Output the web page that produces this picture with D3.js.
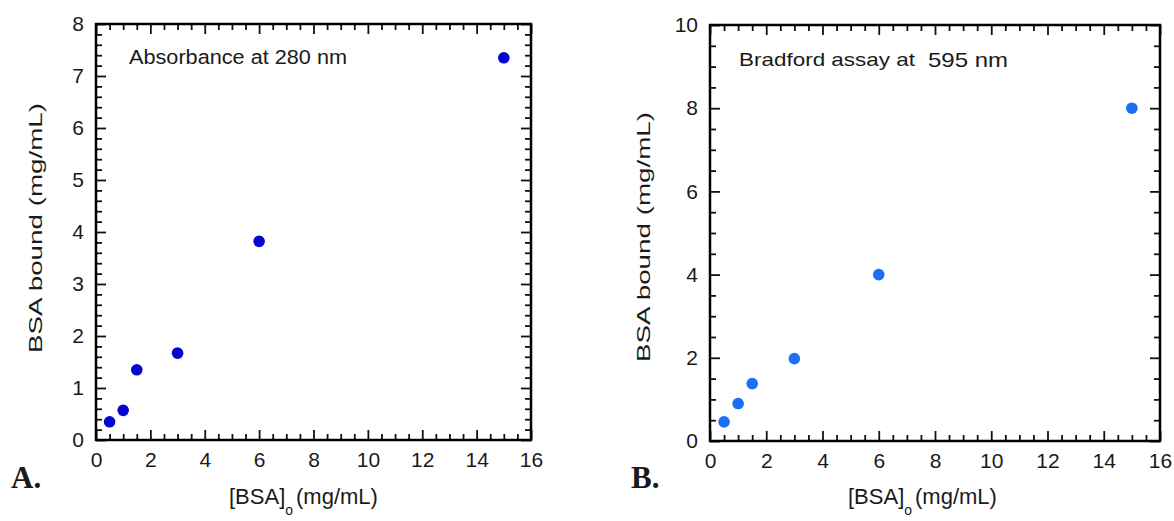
<!DOCTYPE html>
<html>
<head>
<meta charset="utf-8">
<script src="https://cdn.jsdelivr.net/npm/d3@7"></script>
<style>
  body { margin: 0; background: #fff; }
  text { font-family: "Liberation Sans", Arial, sans-serif; fill: #1a1a1a; }
</style>
</head>
<body>
<script>
// BSA concentrations (mg/mL) and bound amounts for both assays
var bsaConc = [0.5, 1, 1.5, 3, 6, 15];
var boundA280 = [0.35, 0.57, 1.35, 1.67, 3.82, 7.35];
var boundBradford = [0.46, 0.9, 1.38, 1.98, 4.0, 8.0];

var xTicks = [0, 2, 4, 6, 8, 10, 12, 14, 16];
var yTicksA = [0, 1, 2, 3, 4, 5, 6, 7, 8];
var yTicksB = [0, 2, 4, 6, 8, 10];

var svg = d3.select('body').append('svg')
    .attr('width', 1174)
    .attr('height', 521);

function range(a, b, step) {
    var out = [];
    for (let v = a; v <= b + 1e-9; v += step) out.push(+v.toFixed(3));
    return out;
}

var MAJOR = 10, MINOR = 6;

function panel(opt) {
    var x = d3.scaleLinear().domain([0, 16]).range([opt.left, opt.right]);
    var y = d3.scaleLinear().domain([0, opt.ymax]).range([opt.bottom, opt.top]);
    var g = svg.append('g');

    var xMinor = range(0, 16, 0.5).filter(v => xTicks.indexOf(v) < 0);
    var yMinor = range(0, opt.ymax, opt.yminor).filter(v => opt.yticks.indexOf(v) < 0);

    function clean(sel) {
        sel.select('.domain').remove();
        sel.selectAll('.tick line')
            .attr('stroke', '#111')
            .attr('stroke-width', 1.8);
    }

    // bottom
    g.append('g').attr('transform', 'translate(0,' + opt.bottom + ')')
        .call(d3.axisBottom(x).tickValues(xTicks).tickSizeInner(-MAJOR).tickSizeOuter(0).tickPadding(18).tickFormat(d3.format('d')))
        .call(clean)
        .selectAll('text').attr('font-size', 21).attr('dy', '0.35em').attr('y', 20);
    g.append('g').attr('transform', 'translate(0,' + opt.bottom + ')')
        .call(d3.axisBottom(x).tickValues(xMinor).tickSize(-MINOR).tickFormat(''))
        .call(clean);
    // top
    g.append('g').attr('transform', 'translate(0,' + opt.top + ')')
        .call(d3.axisTop(x).tickValues(xTicks).tickSize(-MAJOR).tickFormat(''))
        .call(clean);
    g.append('g').attr('transform', 'translate(0,' + opt.top + ')')
        .call(d3.axisTop(x).tickValues(xMinor).tickSize(-MINOR).tickFormat(''))
        .call(clean);
    // left
    g.append('g').attr('transform', 'translate(' + opt.left + ',0)')
        .call(d3.axisLeft(y).tickValues(opt.yticks).tickSizeInner(-MAJOR).tickSizeOuter(0).tickPadding(12).tickFormat(d3.format('d')))
        .call(clean)
        .selectAll('text').attr('font-size', 21).attr('x', -12);
    g.append('g').attr('transform', 'translate(' + opt.left + ',0)')
        .call(d3.axisLeft(y).tickValues(yMinor).tickSize(-MINOR).tickFormat(''))
        .call(clean);
    // right
    g.append('g').attr('transform', 'translate(' + opt.right + ',0)')
        .call(d3.axisRight(y).tickValues(opt.yticks).tickSize(-MAJOR).tickFormat(''))
        .call(clean);
    g.append('g').attr('transform', 'translate(' + opt.right + ',0)')
        .call(d3.axisRight(y).tickValues(yMinor).tickSize(-MINOR).tickFormat(''))
        .call(clean);

    g.append('rect')
        .attr('x', opt.left).attr('y', opt.top)
        .attr('width', opt.right - opt.left).attr('height', opt.bottom - opt.top)
        .attr('fill', 'none').attr('stroke', '#000').attr('stroke-width', 2.5);

    g.selectAll('circle.pt')
        .data(bsaConc.map((c, i) => [c, opt.values[i]]))
        .enter().append('circle')
        .attr('class', 'pt')
        .attr('cx', d => x(d[0]))
        .attr('cy', d => y(d[1]))
        .attr('r', 5.8)
        .attr('fill', opt.color);

    // y axis title
    g.append('text')
        .attr('transform', 'translate(' + opt.ytitleX + ',' + opt.ytitleY + ') rotate(-90)')
        .attr('text-anchor', 'middle')
        .attr('dy', '0.35em')
        .attr('font-size', 18)
        .attr('textLength', 250)
        .attr('lengthAdjust', 'spacingAndGlyphs')
        .text('BSA bound (mg/mL)');

    // x axis title with subscript
    var xt = g.append('text')
        .attr('x', opt.xtitleX).attr('y', 504)
        .attr('font-size', 22);
    xt.append('tspan').text('[BSA]');
    xt.append('tspan').attr('dy', 11).attr('font-size', 14).text('o');
    xt.append('tspan').attr('dy', -11).attr('dx', 3).text('(mg/mL)');

    // panel letter
    svg.append('text')
        .attr('x', opt.letterX).attr('y', 488)
        .attr('font-weight', 'bold')
        .attr('font-size', 31)
        .style('font-family', '"Liberation Serif", "Times New Roman", serif')
        .text(opt.letter);

    return g;
}

var gA = panel({
    left: 96, right: 531, top: 24, bottom: 440, ymax: 8, yminor: 0.2,
    yticks: yTicksA, values: boundA280, color: '#0505cf',
    ytitleX: 36, ytitleY: 228, xtitleX: 229, letter: 'A.', letterX: 11
});
gA.append('text')
    .attr('x', 129).attr('y', 64)
    .attr('font-size', 20)
    .attr('textLength', 218)
    .attr('lengthAdjust', 'spacingAndGlyphs')
    .text('Absorbance at 280 nm');

var gB = panel({
    left: 710, right: 1160, top: 25, bottom: 441, ymax: 10, yminor: 0.5,
    yticks: yTicksB, values: boundBradford, color: '#1c6ef4',
    ytitleX: 644, ytitleY: 237, xtitleX: 848, letter: 'B.', letterX: 631
});
gB.append('text')
    .attr('x', 739).attr('y', 66)
    .attr('font-size', 19)
    .attr('textLength', 176)
    .attr('lengthAdjust', 'spacingAndGlyphs')
    .text('Bradford assay at');
gB.append('text')
    .attr('x', 928).attr('y', 67)
    .attr('font-size', 21)
    .attr('textLength', 80)
    .attr('lengthAdjust', 'spacingAndGlyphs')
    .text('595 nm');
</script>
</body>
</html>
